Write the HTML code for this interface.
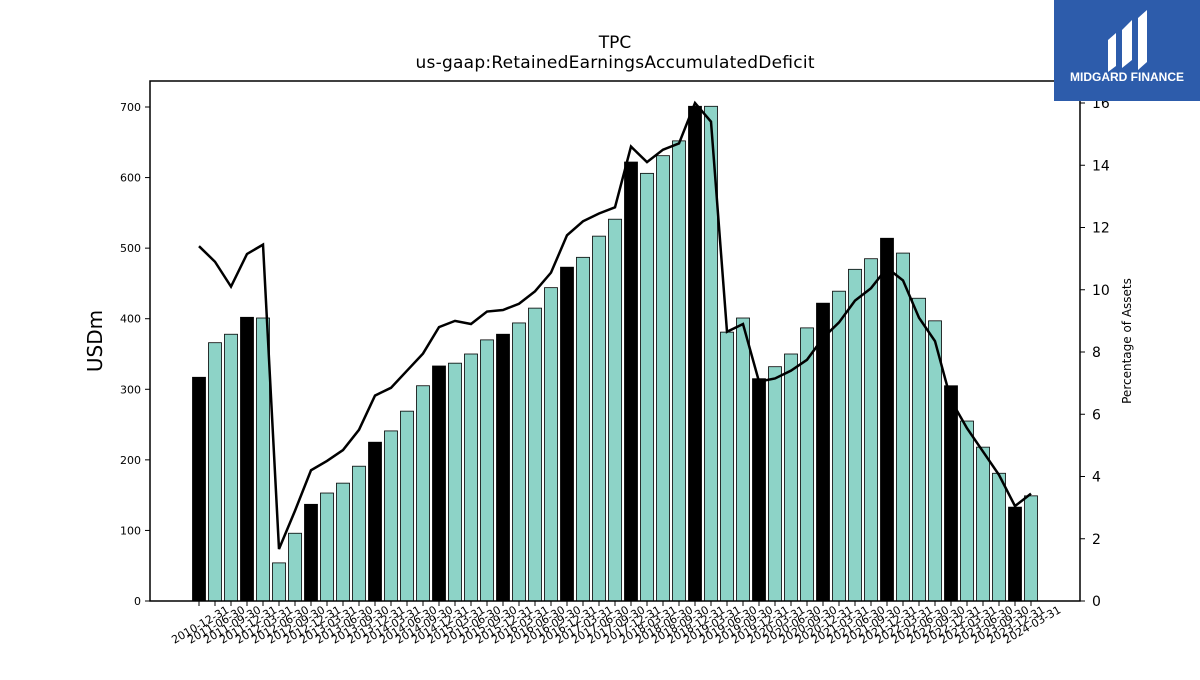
<!DOCTYPE html>
<html><head><meta charset="utf-8"><style>
body{margin:0;background:#fff;font-family:"Liberation Sans","DejaVu Sans",sans-serif}
svg text{font-family:"DejaVu Sans","Liberation Sans",sans-serif}
</style></head><body>
<svg id="c" width="1200" height="675" viewBox="0 0 1200 675">
<text x="615" y="48" font-size="17" text-anchor="middle">TPC</text>
<text x="615" y="68" font-size="17" text-anchor="middle" textLength="399">us-gaap:RetainedEarningsAccumulatedDeficit</text>
<text transform="translate(102,341) rotate(-90)" font-size="20" text-anchor="middle">USDm</text>
<text transform="translate(1131,341) rotate(-90)" font-size="12" text-anchor="middle">Percentage of Assets</text>
<g id="bars"></g>
<g id="line"></g>
<g id="axes"></g>
<rect x="150" y="81" width="930" height="520" fill="none" stroke="#000" stroke-width="1.5"/>
<g>
<rect x="1054" y="0" width="146" height="101" fill="#2d5cab"/>
<path d="M1108 40 L1116 33 L1116 66 L1108 72 Z M1122 30 L1132 20 L1132 60 L1122 68 Z M1138 18 L1147 10 L1147 62 L1138 70 Z" fill="#fff"/>
<text x="1127" y="81" font-size="12" font-weight="bold" fill="#fff" text-anchor="middle" style="font-family:'Liberation Sans',sans-serif">MIDGARD FINANCE</text>
</g>
</svg>
<script>
const values=[317,366,378,402,401,54,96,137,153,167,191,225,241,269,305,333,337,350,370,378,394,415,444,473,487,517,541,622,606,631,652,701,701,381,401,315,332,350,387,422,439,470,485,514,493,429,397,305,255,218,181,133,149];
const pct=[11.4,10.9,10.1,11.15,11.45,1.67,2.9,4.2,4.5,4.85,5.5,6.6,6.85,7.4,7.95,8.8,9.0,8.9,9.3,9.35,9.55,9.95,10.55,11.75,12.2,12.45,12.65,14.6,14.1,14.5,14.7,16.0,15.4,8.65,8.9,7.05,7.15,7.4,7.75,8.45,8.95,9.65,10.05,10.7,10.3,9.1,8.35,6.45,5.55,4.8,4.05,3.05,3.45];
const yTicks=[0,100,200,300,400,500,600,700];
const rTicks=[0,2,4,6,8,10,12,14,16];
const dates=[];
(function(){const e=['03-31','06-30','09-30','12-31'];dates.push('2010-12-31');
for(let y=2011;y<=2024;y++)for(let q=0;q<4;q++){if(y===2011&&q===0)continue;if(y===2024&&q>0)break;dates.push(y+'-'+e[q]);}})();
const NS='http://www.w3.org/2000/svg';
function mk(t,a,p){const el=document.createElementNS(NS,t);for(const k in a)el.setAttribute(k,a[k]);p.appendChild(el);return el;}
const x=i=>199+i*16;
const y=v=>601-v*494/700;
const yr=v=>601-v*498/16;
const bars=document.getElementById('bars'),line=document.getElementById('line'),axes=document.getElementById('axes');
values.forEach((v,i)=>{const q4=dates[i].endsWith('12-31');
const r=mk('rect',{x:x(i)-6.5,y:y(v),width:13,height:601-y(v),fill:q4?'#000':'#8dd3c7',stroke:'#000','stroke-width':0.8},bars);

});
const pl=mk('polyline',{points:pct.map((p,i)=>x(i)+','+yr(p)).join(' '),fill:'none',stroke:'#000','stroke-width':2.5},line);


yTicks.forEach(t=>{mk('line',{x1:145,x2:150,y1:y(t),y2:y(t),stroke:'#000'},axes);
const tx=mk('text',{x:141,y:y(t)+4,'font-size':11,'text-anchor':'end'},axes);tx.textContent=t;

});
rTicks.forEach(t=>{mk('line',{x1:1080,x2:1085,y1:yr(t),y2:yr(t),stroke:'#000'},axes);
const tx=mk('text',{x:1092,y:yr(t)+5,'font-size':14},axes);tx.textContent=t;

});
dates.forEach((d,i)=>{mk('line',{x1:x(i),x2:x(i),y1:601,y2:606,stroke:'#000'},axes);
const tx=mk('text',{transform:'translate('+(x(i)+3)+',628) rotate(-30)','font-size':11,'text-anchor':'middle'},axes);tx.textContent=d;

});
</script>
</body></html>
